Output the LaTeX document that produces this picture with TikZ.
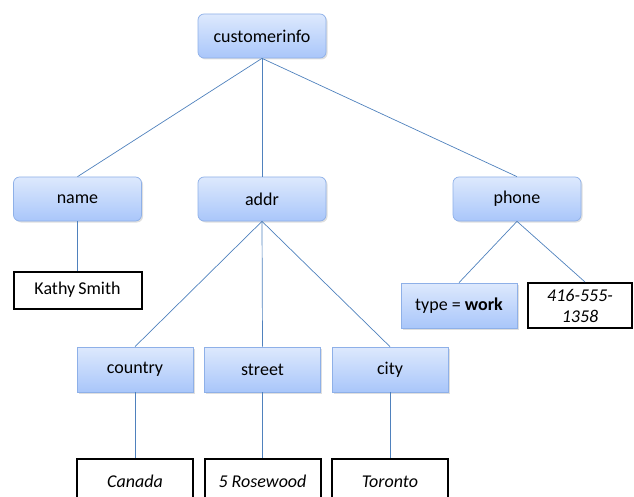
\documentclass[tikz,border=0pt]{standalone}
\usepackage{fontspec}
\setmainfont{Carlito}
\usepackage{tikz}
\usetikzlibrary{positioning}
\usetikzlibrary{shadows}
\definecolor{linkblue}{HTML}{4F81BD}
\definecolor{boxtop}{HTML}{DDE9FD}
\definecolor{boxbottom}{HTML}{A9C6FA}
\definecolor{boxline}{HTML}{8EB0E8}
\newcommand{\labelfont}{\fontsize{18}{21}\selectfont}
\tikzstyle{link} = [draw=linkblue, line width=0.7pt]
\tikzstyle{valuebox} = [draw=black, line width=2pt, fill=white, font=\labelfont\itshape]

\begin{document}
\begin{tikzpicture}[x=1pt, y=-1pt,
                      font=\labelfont,
                      tag node/.style={draw=boxline, top color=boxtop, bottom color=boxbottom,
                                       line width=0.7pt, drop shadow={opacity=0.25,shadow xshift=1.5pt,shadow yshift=-1.5pt}},
                      main node/.style={tag node, rounded corners=6pt, minimum width=128pt, minimum height=44pt},
                      leaf node/.style={tag node, minimum width=116pt, minimum height=45pt}]

        \useasboundingbox (0,0) rectangle (634,497);

        % top of the tree
        \node[main node] (1) at (262,36) {customerinfo};
        \node[main node] (2) at (77.5,199) {name};
        \node[main node] (3) at (262,199) {addr};
        \node[main node] (4) at (517,199) {phone};

        % name and phone
        \node[valuebox, font=\labelfont, minimum width=128pt, minimum height=37pt] (5) [below of=2, node distance=91pt] {Kathy\,Smith};
        \node[leaf node] (6) at (459,305.5) {type = \textbf{work}};
        \node[valuebox, minimum width=104pt, minimum height=45pt, text width=96pt, align=center] (7) at (580,305.5) {416-555-\\1358};

        % addr
        \node[leaf node] (8) at (135,369.5) {country};
        \node[leaf node] (9) at (262.5,369.5) {street};
        \node[leaf node] (10) at (390,369.5) {city};
        \node[valuebox, minimum width=116pt, minimum height=45pt] (11) [below of=8, node distance=112pt] {Canada};
        \node[valuebox, minimum width=116pt, minimum height=45pt] (12) [below of=9, node distance=112pt] {5 Rosewood};
        \node[valuebox, minimum width=116pt, minimum height=45pt] (13) [below of=10, node distance=112pt] {Toronto};

        \path[link]
        (1.south) edge (2.north)
        (1.south) edge (3.north)
        (1.south) edge (4.north)

        (2.south) edge (5.north)
        (4.south) edge (6.north)
        (4.south) edge ([xshift=5pt]7.north)

        (3.south) edge (8.north)
        (3.south) edge (9.north)
        (3.south) edge (10.north)

        (8.south) edge (11.north)
        (9.south) edge (12.north)
        (10.south) edge (13.north)
        ;
    \end{tikzpicture}
\end{document}
